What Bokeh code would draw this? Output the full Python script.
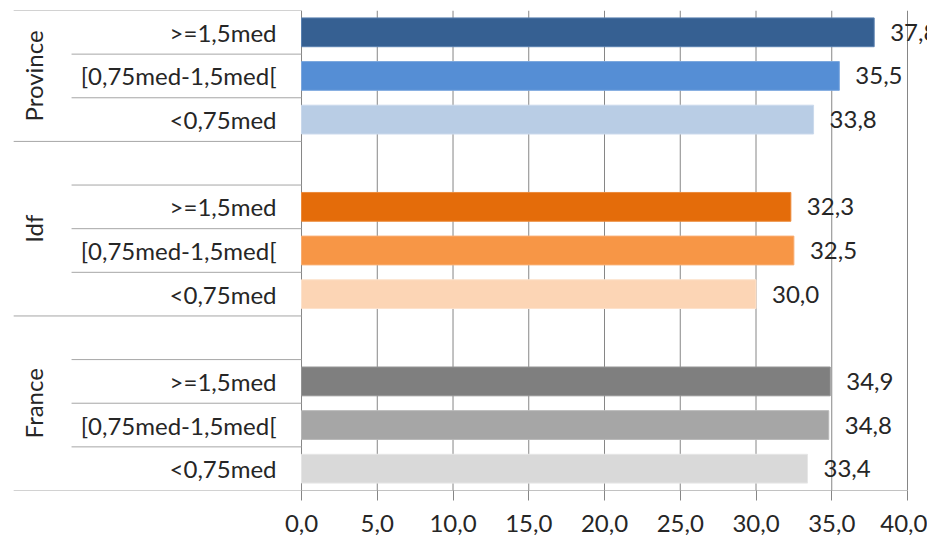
from bokeh.plotting import figure
from bokeh.models import ColumnDataSource, Range1d, FixedTicker
from bokeh.core.properties import value
from bokeh.embed import file_html
from bokeh.resources import INLINE

# ---- data ----
groups = ["France", "Idf", "Province"]
subcats = ["<0,75med", "[0,75med-1,5med[", ">=1,5med"]
france = [33.4, 34.8, 34.9]
idf = [30.0, 32.5, 32.3]
province = [33.8, 35.5, 37.8]
ticks = [0, 5, 10, 15, 20, 25, 30, 35, 40]

colors = {
    "France": ["#D9D9D9", "#A6A6A6", "#7F7F7F"],
    "Idf": ["#FCD5B5", "#F79646", "#E46C0A"],
    "Province": ["#B9CDE5", "#558ED5", "#366092"],
}
edge = {
    "France": ["#E6E6E6", "#B8B8B8", "#959595"],
    "Idf": ["#FDE2CC", "#F9AE72", "#EC8A3A"],
    "Province": ["#CAD9EC", "#7BA7DE", "#5A80B0"],
}
values_by_group = {"France": france, "Idf": idf, "Province": province}

FONT = "Lato"
FS = "24px"
TXT = "#262626"
GRID = "#868686"
SEP = "#A6A6A6"

# ---- build rows ----
ys, vals, cols, lcols, sublabels = [], [], [], [], []
for gi, g in enumerate(groups):
    base = 4 * gi
    for si, s in enumerate(subcats):
        ys.append(base + si + 0.5)
        vals.append(values_by_group[g][si])
        cols.append(colors[g][si])
        lcols.append(edge[g][si])
        sublabels.append(s)

src = ColumnDataSource(dict(
    y=ys, v=vals, c=cols, lc=lcols, lab=sublabels,
    vt=[f"{v:.1f}".replace(".", ",") for v in vals],
    lx=[-1.65] * len(ys),
))

p = figure(width=927, height=535, output_backend="svg", toolbar_location=None,
           x_range=Range1d(-19.87, 41.32), y_range=Range1d(0, 11),
           y_axis_location=None, min_border_left=0, min_border_right=0,
           min_border_top=10, min_border_bottom=45)
p.outline_line_color = None
p.xgrid.grid_line_color = None
p.ygrid.grid_line_color = None

# vertical gridlines 0..40
p.segment(x0=ticks, y0=[0] * len(ticks), x1=ticks, y1=[11] * len(ticks),
          line_color=GRID, line_width=1)
# bottom axis line
p.segment(x0=[0], y0=[0], x1=[40], y1=[0], line_color=GRID, line_width=1)

# bars
p.hbar(y="y", left=0, right="v", height=0.66, source=src,
       fill_color="c", line_color="lc", line_width=1)

# value labels
p.text(x="v", y="y", text="vt", source=src, x_offset=16,
       text_font=value(FONT), text_font_size=FS, text_color=TXT,
       text_baseline="middle", text_align="left")

# category labels
p.text(x="lx", y="y", text="lab", source=src,
       text_font=value(FONT), text_font_size=FS, text_color=TXT,
       text_baseline="middle", text_align="right")

# separators in label area
full_x0 = -19.0
inner_x0 = -15.18
full_ys = [0, 4, 8, 11]
inner_ys = [1, 2, 3, 5, 6, 7, 9, 10]
p.segment(x0=[full_x0] * len(full_ys), y0=full_ys, x1=[0] * len(full_ys), y1=full_ys,
          line_color=SEP, line_width=1)
p.segment(x0=[inner_x0] * len(inner_ys), y0=inner_ys, x1=[0] * len(inner_ys), y1=inner_ys,
          line_color=SEP, line_width=1)

# group labels (rotated)
gsrc = ColumnDataSource(dict(x=[-17.7] * 3, y=[2, 6, 9.5], t=groups))
p.text(x="x", y="y", text="t", source=gsrc, angle=1.5708,
       text_font=value(FONT), text_font_size=FS, text_color=TXT,
       text_baseline="middle", text_align="center")

# x axis
ax = p.xaxis[0]
ax.ticker = FixedTicker(ticks=ticks)
ax.major_label_overrides = {t: f"{t:.1f}".replace(".", ",") for t in ticks}
ax.axis_line_color = None
ax.major_tick_line_color = GRID
ax.major_tick_out = 10
ax.major_tick_in = 0
ax.minor_tick_line_color = None
ax.major_label_text_font = FONT
ax.major_label_text_font_size = FS
ax.major_label_text_color = TXT
ax.major_label_standoff = 14

open("out.html", "w").write(file_html(p, INLINE))
